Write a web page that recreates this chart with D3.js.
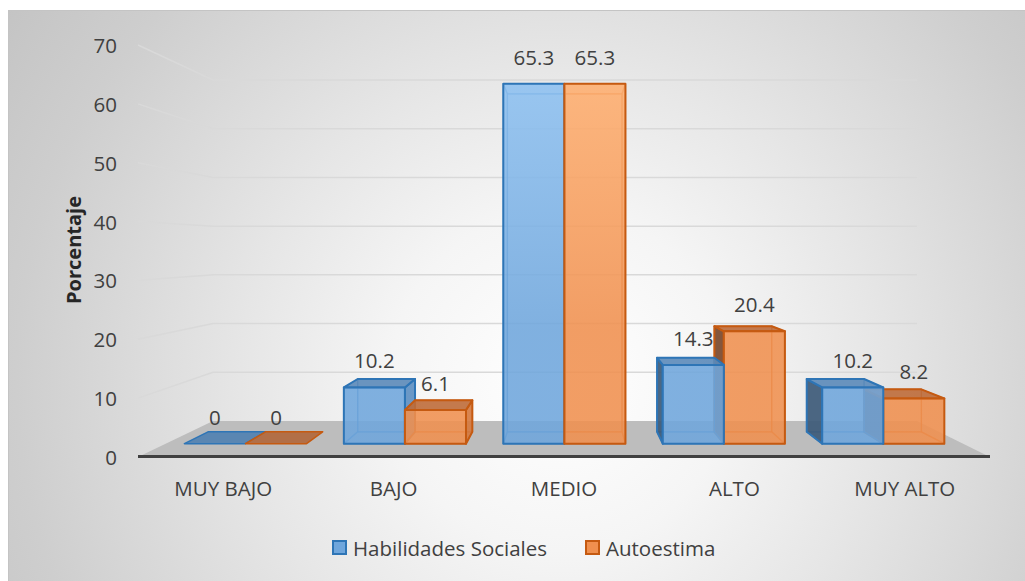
<!DOCTYPE html>
<html><head><meta charset="utf-8">
<script src="https://cdn.jsdelivr.net/npm/d3@7"></script>
<style>html,body{margin:0;padding:0;background:#fff;}svg{display:block;}</style>
</head><body>
<svg id="chart" width="1025" height="581"></svg>
<script>
const categories = ["MUY BAJO", "BAJO", "MEDIO", "ALTO", "MUY ALTO"];
const seriesNames = ["Habilidades Sociales", "Autoestima"];
const habilidades = [0, 10.2, 65.3, 14.3, 10.2];
const autoestima = [0, 6.1, 65.3, 20.4, 8.2];
const yTicks = [0, 10, 20, 30, 40, 50, 60, 70];
const yTitle = "Porcentaje";

const FONT = "'Open Sans', 'Noto Sans', sans-serif";
const FS = 20.5;
const svg = d3.select("#chart");
const defs = svg.append("defs");

// background
const bg = defs.append("radialGradient").attr("id", "bg").attr("gradientUnits", "userSpaceOnUse")
  .attr("cx", 560).attr("cy", 380).attr("r", 680);
[[0, "#ffffff"], [0.25, "#f5f5f5"], [0.47, "#e6e6e6"], [0.8, "#cecece"], [1, "#c3c3c3"]]
  .forEach(([o, c]) => bg.append("stop").attr("offset", o).attr("stop-color", c));
svg.append("rect").attr("x", 8.5).attr("y", 10.5).attr("width", 1030).attr("height", 580)
  .attr("fill", "url(#bg)").attr("stroke", "#c4c4c4").attr("stroke-width", 1);

// series styles
const styles = {
  "Habilidades Sociales": { stroke: "#2E75B6", frontTop: "#8EC1F1", frontBot: "#6FA6DC", top: "#5B8AB9", right: "#5C8EC1", left: "#3D5A78", flat: "#4F80B0" },
  "Autoestima": { stroke: "#C55A11", frontTop: "#FFAF70", frontBot: "#F0904F", top: "#BE6B3A", right: "#D4783D", left: "#7A482B", flat: "#B0663A" }
};
seriesNames.forEach((s, i) => {
  const g = defs.append("linearGradient").attr("id", "fg" + i).attr("gradientUnits", "userSpaceOnUse")
    .attr("x1", 0).attr("x2", 0).attr("y1", 80).attr("y2", 330);
  g.append("stop").attr("offset", 0).attr("stop-color", styles[s].frontTop);
  g.append("stop").attr("offset", 1).attr("stop-color", styles[s].frontBot);
});

// 3D projection via scales
const xF = d3.scaleLinear().domain([0, 1]).range([138, 990]);
const xB = d3.scaleLinear().domain([0, 1]).range([213, 917]);
const yF = d3.scaleLinear().domain([0, 70]).range([457, 45]);
const yB = d3.scaleLinear().domain([0, 70]).range([421, 80]);
function P(u, v, z) {
  return [xF(u) + (xB(u) - xF(u)) * z, yF(v) + (yB(v) - yF(v)) * z];
}
const Z0 = 0.37, Z1 = 0.70;
const xBand = d3.scaleBand().domain(categories).range([0, 1]).paddingInner(0.234).paddingOuter(0.117);
const xSub = d3.scaleBand().domain(seriesNames).range([0, xBand.bandwidth()]);
const line = d3.line();
const poly = pts => line(pts) + "Z";

// floor
svg.append("path").attr("d", poly([P(0, 0, 0), P(1, 0, 0), P(1, 0, 1), P(0, 0, 1)]))
  .attr("fill", "#bdbdbd");

// gridlines (side wall + back wall)
const grid = svg.append("g");
yTicks.filter(t => t > 0).forEach(t => {
  grid.append("path").attr("d", line([P(0, t, 0), P(0, t, 1), P(1, t, 1)]))
    .attr("fill", "none").attr("stroke", "#d9d9d9").attr("stroke-width", 1.5);
});

// axis line at front of floor
svg.append("line").attr("x1", xF(0)).attr("x2", xF(1)).attr("y1", yF(0) - 0.5).attr("y2", yF(0) - 0.5)
  .attr("stroke", "#404040").attr("stroke-width", 3);

// y labels
svg.append("g").selectAll("text").data(yTicks).join("text")
  .attr("x", 117).attr("y", d => yF(d)).attr("text-anchor", "end").attr("dominant-baseline", "central")
  .attr("font-family", FONT).attr("font-size", FS).attr("fill", "#404040").text(d => d);

// y title
svg.append("text").attr("transform", "translate(73,250) rotate(-90)")
  .attr("text-anchor", "middle").attr("dominant-baseline", "central")
  .attr("font-family", FONT).attr("font-size", 20).attr("font-weight", "bold").attr("fill", "#262626").text(yTitle);

// category labels
svg.append("g").selectAll("text").data(categories).join("text")
  .attr("x", d => xF(xBand(d) + xBand.bandwidth() / 2)).attr("y", 488)
  .attr("text-anchor", "middle").attr("dominant-baseline", "central")
  .attr("font-family", FONT).attr("font-size", FS).attr("fill", "#404040").text(d => d);

// bars
const data = [];
categories.forEach((c, i) => {
  data.push({ cat: c, series: seriesNames[0], value: habilidades[i] });
  data.push({ cat: c, series: seriesNames[1], value: autoestima[i] });
});
data.forEach(d => {
  d.u0 = xBand(d.cat) + xSub(d.series);
  d.u1 = d.u0 + xSub.bandwidth();
  d.dist = Math.abs((d.u0 + d.u1) / 2 - 0.507);
});
data.sort((a, b) => b.dist - a.dist);

const barsG = svg.append("g");
data.forEach(d => {
  const st = styles[d.series];
  const sIdx = seriesNames.indexOf(d.series);
  const v = d.value;
  const fbl = P(d.u0, 0, Z0), fbr = P(d.u1, 0, Z0), ftl = P(d.u0, v, Z0), ftr = P(d.u1, v, Z0);
  const bbl = P(d.u0, 0, Z1), bbr = P(d.u1, 0, Z1), btl = P(d.u0, v, Z1), btr = P(d.u1, v, Z1);
  const g = barsG.append("g").attr("stroke-linejoin", "round");
  if (v === 0) {
    g.append("path").attr("d", poly([ftl, ftr, btr, btl])).attr("fill", st.flat)
      .attr("fill-opacity", 0.9).attr("stroke", st.stroke).attr("stroke-width", 1.5);
  } else {
    const leftVis = bbl[0] < fbl[0] - 0.5;
    const rightVis = bbr[0] > fbr[0] + 0.5;
    const topVis = btl[1] < ftl[1];
    const hidden = [[bbl, bbr, btr, btl], [fbl, fbr, bbr, bbl]];
    if (!leftVis) hidden.push([fbl, bbl, btl, ftl]);
    if (!rightVis) hidden.push([fbr, bbr, btr, ftr]);
    if (!topVis) hidden.push([ftl, ftr, btr, btl]);
    hidden.forEach(f => g.append("path").attr("d", poly(f)).attr("fill", "none")
      .attr("stroke", st.stroke).attr("stroke-opacity", 0.55).attr("stroke-width", 1.3));
    if (leftVis) g.append("path").attr("d", poly([fbl, bbl, btl, ftl])).attr("fill", st.left)
      .attr("fill-opacity", 0.92).attr("stroke", st.stroke).attr("stroke-width", 2);
    if (rightVis) g.append("path").attr("d", poly([fbr, bbr, btr, ftr])).attr("fill", st.right)
      .attr("fill-opacity", 0.9).attr("stroke", st.stroke).attr("stroke-width", 2);
    if (topVis) g.append("path").attr("d", poly([ftl, ftr, btr, btl])).attr("fill", st.top)
      .attr("fill-opacity", 0.9).attr("stroke", st.stroke).attr("stroke-width", 2);
    g.append("path").attr("d", poly([fbl, fbr, ftr, ftl])).attr("fill", "url(#fg" + sIdx + ")")
      .attr("fill-opacity", 0.88).attr("stroke", st.stroke).attr("stroke-width", 2);
  }
  d.labelX = (ftl[0] + ftr[0]) / 2;
  d.labelY = ftl[1] - 27;
});

svg.append("g").selectAll("text").data(data).join("text")
  .attr("x", d => d.labelX).attr("y", d => d.labelY)
  .attr("text-anchor", "middle").attr("dominant-baseline", "central")
  .attr("font-family", FONT).attr("font-size", FS).attr("fill", "#404040").text(d => d.value);

// legend
const legend = svg.append("g");
const legendItems = [{ name: seriesNames[0], x: 332 }, { name: seriesNames[1], x: 585 }];
legendItems.forEach((it) => {
  const st = styles[it.name];
  legend.append("rect").attr("x", it.x + 1).attr("y", 541).attr("width", 13).attr("height", 13)
    .attr("fill", st.frontBot).attr("stroke", st.stroke).attr("stroke-width", 2);
  legend.append("text").attr("x", it.x + 21).attr("y", 547.5).attr("dominant-baseline", "central")
    .attr("font-family", FONT).attr("font-size", FS).attr("fill", "#404040").text(it.name);
});
</script>
</body></html>
